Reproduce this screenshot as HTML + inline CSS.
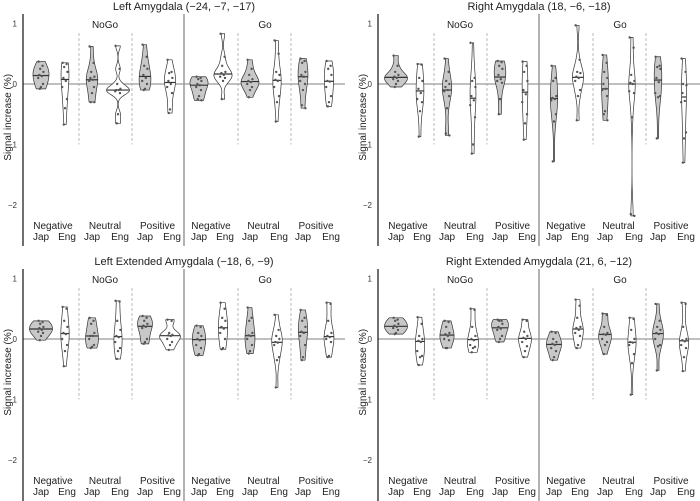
<!DOCTYPE html>
<html><head><meta charset="utf-8">
<style>
html,body{margin:0;padding:0;background:#fff;}
svg{display:block;font-family:"Liberation Sans",sans-serif;}
</style></head>
<body>
<svg id="chart" width="700" height="501" viewBox="0 0 700 501" xmlns="http://www.w3.org/2000/svg"></svg>
<script>
const panelTitles = ["Left Amygdala (\u221224, \u22127, \u221217)", "Right Amygdala (18, \u22126, \u221218)", "Left Extended Amygdala (\u221218, 6, \u22129)", "Right Extended Amygdala (21, 6, \u221212)"];
const tasks = ["NoGo", "Go"];
const emotions = ["Negative", "Neutral", "Positive"];
const groups = ["Jap", "Eng"];
const yTicks = [1, 0, -1, -2];
const yTickLabels = ["1", "0", "\u22121", "\u22122"];

const leftAmygdala = [
 [0.37,0.3,0.25,0.2,0.15,0.13,0.1,0.0,-0.05,-0.08],
 [0.35,0.33,0.28,0.2,0.1,0.05,-0.05,-0.25,-0.4,-0.67],
 [0.62,0.35,0.2,0.12,0.1,0.07,0.05,-0.05,-0.15,-0.3,-0.3],
 [0.63,0.25,0.0,-0.08,-0.1,-0.1,-0.12,-0.15,-0.5,-0.65],
 [0.65,0.45,0.3,0.25,0.15,0.1,0.05,0.0,-0.08,-0.1],
 [0.4,0.2,0.18,0.1,0.05,0.0,-0.05,-0.15,-0.42,-0.48],
 [0.12,0.1,0.08,0.05,0,-0.02,-0.05,-0.1,-0.2,-0.25,-0.27],
 [0.83,0.45,0.3,0.2,0.18,0.15,0.12,0.1,0.05,-0.25],
 [0.4,0.25,0.15,0.08,0.05,0.03,0.0,-0.05,-0.1,-0.22],
 [0.72,0.5,0.2,0.15,0.07,0.05,-0.05,-0.2,-0.3,-0.62],
 [0.42,0.38,0.35,0.2,0.15,0.12,0.05,0.0,-0.1,-0.35,-0.4],
 [0.38,0.3,0.25,0.15,0.05,0.04,-0.05,-0.2,-0.3,-0.37]
];
const rightAmygdala = [
 [0.47,0.3,0.2,0.15,0.12,0.1,0.08,0.05,0.0,-0.05],
 [0.33,0.32,0.1,0.05,-0.08,-0.15,-0.25,-0.3,-0.45,-0.87],
 [0.42,0.2,0.05,0,-0.05,-0.1,-0.12,-0.2,-0.4,-0.82,-0.85],
 [0.68,0.1,0.05,-0.05,-0.2,-0.27,-0.35,-0.55,-1.0,-1.15],
 [0.38,0.36,0.3,0.25,0.15,0.08,0.05,0.02,-0.25,-0.5],
 [0.37,0.3,0.2,0.05,-0.1,-0.17,-0.3,-0.5,-0.65,-0.92],
 [0.3,0.1,0.05,-0.2,-0.23,-0.25,-0.27,-0.5,-0.62,-1.28],
 [0.97,0.4,0.2,0.18,0.12,0.1,0.05,-0.1,-0.2,-0.6],
 [0.48,0.35,0.2,0.1,0,-0.08,-0.1,-0.2,-0.45,-0.5,-0.6],
 [0.77,0.6,0.15,0.05,0.02,0.0,-0.12,-0.15,-0.55,-2.15,-2.18],
 [0.45,0.3,0.28,0.25,0.1,0.03,-0.15,-0.2,-0.22,-0.9],
 [0.42,0.2,0.0,-0.02,-0.15,-0.28,-0.3,-0.8,-0.9,-1.3]
];
const leftExtended = [
 [0.3,0.28,0.25,0.2,0.18,0.15,0.12,0.1,0.05,-0.02],
 [0.53,0.5,0.3,0.2,0.1,0.08,0.0,-0.1,-0.2,-0.45],
 [0.35,0.3,0.25,0.1,0.05,0.05,0.0,-0.1,-0.13,-0.15],
 [0.63,0.62,0.3,0.15,0.05,0.03,-0.05,-0.15,-0.2,-0.33],
 [0.38,0.35,0.3,0.25,0.22,0.2,0.18,0.0,-0.05,-0.08],
 [0.32,0.3,0.1,0.07,0.06,0.05,0.0,-0.05,-0.1,-0.18],
 [0.22,0.2,0.1,0.05,0,-0.02,-0.1,-0.15,-0.25,-0.27],
 [0.6,0.5,0.35,0.3,0.2,0.17,0.1,0.0,-0.15,-0.17],
 [0.52,0.35,0.3,0.1,0.06,0.05,0.0,-0.1,-0.2,-0.24],
 [0.4,0.15,0.05,0.0,-0.05,-0.06,-0.1,-0.3,-0.35,-0.8],
 [0.48,0.35,0.3,0.2,0.12,0.1,0.05,-0.1,-0.3,-0.35],
 [0.6,0.58,0.3,0.1,0.05,0.03,0.0,-0.05,-0.28,-0.3]
];
const rightExtended = [
 [0.35,0.32,0.3,0.25,0.22,0.2,0.18,0.15,0.1,0.08],
 [0.36,0.25,0.05,0.0,-0.03,-0.05,-0.2,-0.28,-0.3,-0.43],
 [0.3,0.28,0.2,0.1,0.08,0.05,0.0,-0.02,-0.15,-0.15],
 [0.5,0.48,0.2,0.05,0.0,-0.02,-0.1,-0.13,-0.15,-0.22],
 [0.32,0.3,0.3,0.25,0.2,0.17,0.15,0.05,0.0,-0.05],
 [0.32,0.3,0.12,0.05,0.02,0.0,-0.05,-0.12,-0.2,-0.3],
 [0.12,0.1,0.0,-0.05,-0.08,-0.1,-0.15,-0.2,-0.3,-0.35],
 [0.65,0.55,0.35,0.2,0.18,0.15,0.1,0.05,-0.1,-0.15],
 [0.42,0.4,0.2,0.1,0.08,0.07,0.0,-0.05,-0.1,-0.25],
 [0.35,0.33,0.15,0.0,-0.05,-0.06,-0.1,-0.25,-0.4,-0.92],
 [0.58,0.3,0.2,0.15,0.1,0.08,0.0,-0.1,-0.12,-0.52],
 [0.6,0.58,0.2,0.0,-0.02,-0.04,-0.1,-0.15,-0.3,-0.53]
];
const panelData = [leftAmygdala, rightAmygdala, leftExtended, rightExtended];

const NS = "http://www.w3.org/2000/svg";
const svg = document.getElementById("chart");
function mk(tag, attrs, parent, text){
  const e = document.createElementNS(NS, tag);
  for (const k in attrs) e.setAttribute(k, attrs[k]);
  if (text !== undefined) e.textContent = text;
  parent.appendChild(e);
  return e;
}
const slotX = [41,65,92,118,145,170,199,223,250,277,303,329];
const dashX = [79,132,238,291];
const offsets = [[0,0],[355,0],[0,255],[355,255]];
const jit = [-3,2,-1,3,-2,1,-3.5,2.5,0,-1.5,3];

function yScale(v){ return 84 - v*60.5; }
function median(a){ const s=[...a].sort((x,y)=>x-y); const n=s.length; return n%2?s[(n-1)/2]:(s[n/2-1]+s[n/2])/2; }
function bw(a){
  const n=a.length, m=a.reduce((s,v)=>s+v,0)/n;
  const sd=Math.sqrt(a.reduce((s,v)=>s+(v-m)*(v-m),0)/(n-1));
  const s=[...a].sort((x,y)=>x-y);
  const q=p=>{const h=(n-1)*p, l=Math.floor(h); return s[l]+(h-l)*((s[Math.min(l+1,n-1)])-s[l]);};
  const iqr=(q(0.75)-q(0.25))/1.34;
  const lo=Math.min(sd, iqr>0?iqr:sd);
  return 1.3*0.9*lo*Math.pow(n,-0.2);
}
function density(a){
  const h=bw(a), lo=Math.min(...a), hi=Math.max(...a), N=60, out=[];
  for(let i=0;i<=N;i++){
    const y=lo+(hi-lo)*i/N; let d=0;
    for(const v of a){ const z=(y-v)/h; d+=Math.exp(-0.5*z*z); }
    out.push([y, d/(a.length*h*Math.sqrt(2*Math.PI))]);
  }
  return out;
}

panelData.forEach((data, p)=>{
  const [ox, oy] = offsets[p];
  const g = mk("g", {transform:`translate(${ox},${oy})`}, svg);
  
  
  const t = mk("text", {x:184, y:10, "font-size":11, "text-anchor":"middle", fill:"#222"}, g, panelTitles[p]);
  
  
  const zl = mk("line", {x1:23, x2:345, y1:yScale(0), y2:yScale(0), stroke:"#999", "stroke-width":1.2}, g);
  
  
  const dv = mk("line", {x1:184, x2:184, y1:14, y2:246, stroke:"#999", "stroke-width":1.5}, g);
  
  
  dashX.forEach(x=>{
    const d = mk("line", {x1:x, x2:x, y1:33, y2:yScale(-1), stroke:"#aaa", "stroke-width":0.8, "stroke-dasharray":"3,2"}, g);
    
    
  });
  const ax = mk("line", {x1:23, x2:23, y1:14, y2:246, stroke:"#111", "stroke-width":1.2}, g);
  
  
  yTicks.forEach((v,i)=>{
    const tl = mk("text", {x:17, y:yScale(v)+3, "font-size":8, "text-anchor":"end", fill:"#333"}, g, yTickLabels[i]);
    
    
  });
  const yt = mk("text", {x:0, y:0, "font-size":10, "text-anchor":"middle", fill:"#222", transform:`translate(11,${yScale(-0.55)}) rotate(-90)`}, g, "Signal increase (%)");
  
  
  tasks.forEach((tk,i)=>{
    const tt = mk("text", {x: i===0?105:265, y:28, "font-size":10, "text-anchor":"middle", fill:"#222"}, g, tk);
    
    
  });
  const dens = data.map(density);
  const maxD = Math.max(...dens.map(d=>Math.max(...d.map(q=>q[1]))));
  data.forEach((vals, k)=>{
    const cx = slotX[k];
    const d = dens[k];
    const w = v => v/maxD*11.5;
    let pts = d.map(q=>`${(cx+w(q[1])).toFixed(2)},${yScale(q[0]).toFixed(2)}`);
    pts = pts.concat(d.slice().reverse().map(q=>`${(cx-w(q[1])).toFixed(2)},${yScale(q[0]).toFixed(2)}`));
    const isJap = k%2===0;
    const vg = mk("g", {}, g);
    
    
    mk("polygon", {points:pts.join(" "), fill:isJap?"#c8c8c8":"#fff", stroke:"#333", "stroke-width":0.7}, vg);
    const md = median(vals);
    const mw = w(d.reduce((best,q)=>Math.abs(q[0]-md)<Math.abs(best[0]-md)?q:best, d[0])[1]);
    const ml = mk("line", {x1:cx-mw, x2:cx+mw, y1:yScale(md), y2:yScale(md), stroke:"#333", "stroke-width":1.2}, vg);
    
    
    vals.forEach((v,j)=>{
      const c = mk("circle", {cx:cx+jit[j%jit.length]*0.8, cy:yScale(v), r:1.2, fill:"#555"}, vg);
      
      
    });
  });
  for (let pr=0; pr<6; pr++){
    const jx = slotX[pr*2], ex = slotX[pr*2+1];
    const el = mk("text", {x:(jx+ex)/2, y:229, "font-size":10, "text-anchor":"middle", fill:"#222"}, g, emotions[pr%3]);
    
    
    const gj = mk("text", {x:jx, y:240, "font-size":10, "text-anchor":"middle", fill:"#222"}, g, groups[0]);
    
    
    const ge = mk("text", {x:ex+2, y:240, "font-size":10, "text-anchor":"middle", fill:"#222"}, g, groups[1]);
    
    
  }
});
</script>
</body></html>
